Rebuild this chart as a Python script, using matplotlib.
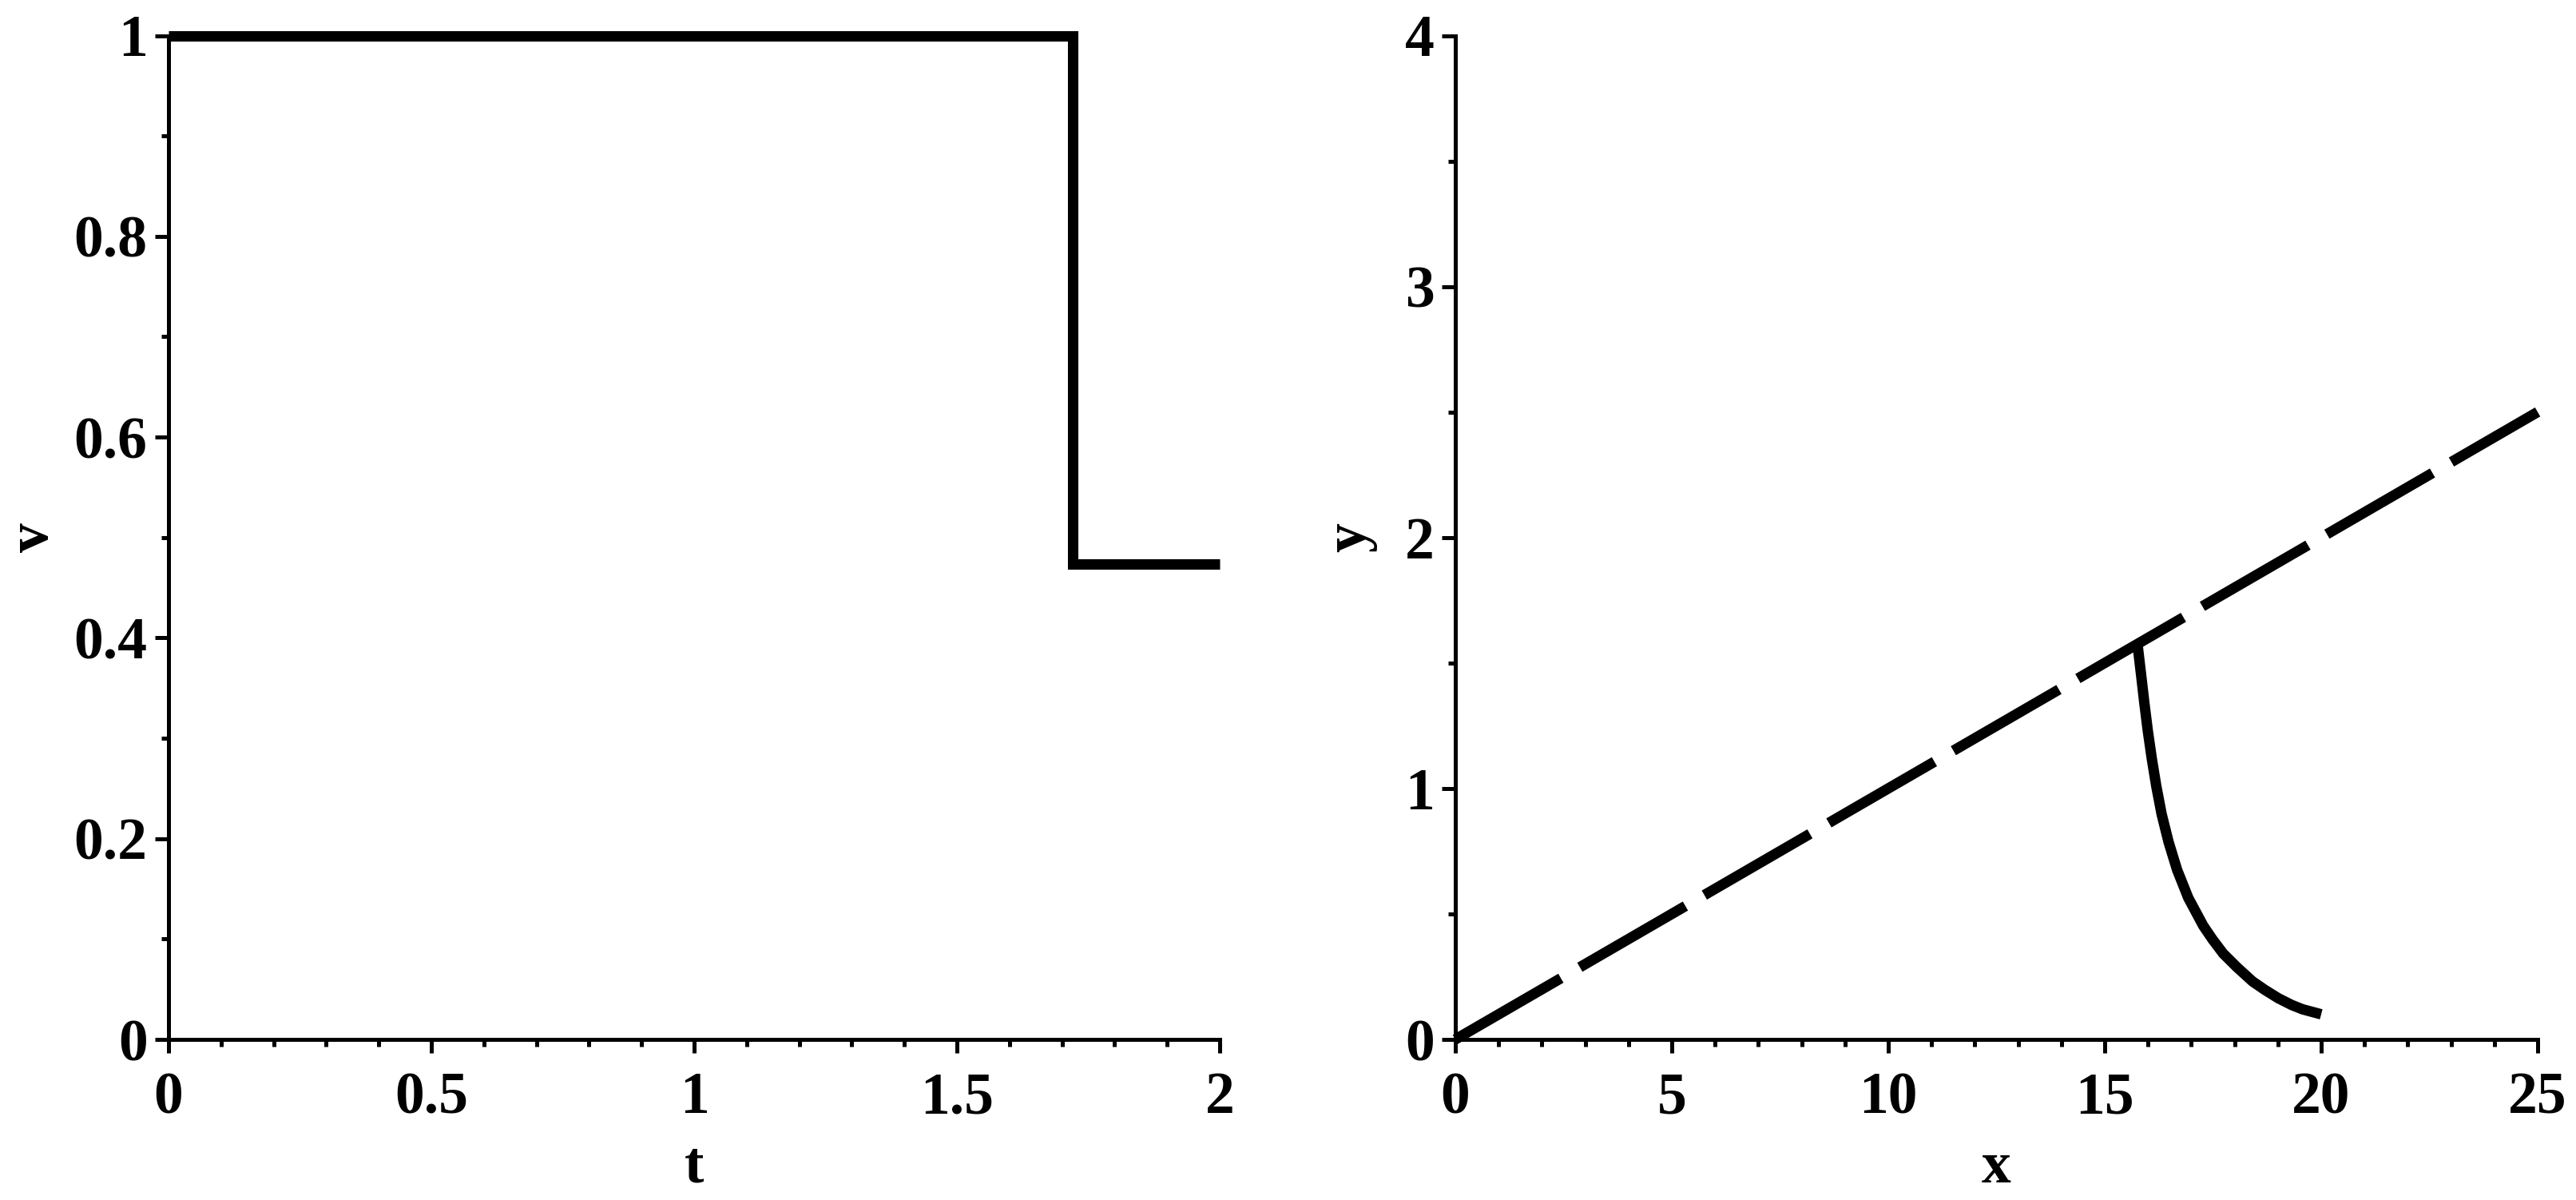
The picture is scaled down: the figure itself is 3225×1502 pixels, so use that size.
import matplotlib
matplotlib.use('Agg')
import matplotlib.pyplot as plt
from matplotlib.ticker import MultipleLocator, FixedLocator, FixedFormatter

# ---- data ----
step_t = [0.0, 1.72, 1.72, 2.0]
step_v = [1.0, 1.0, 0.4735, 0.4735]

line_x = [0.0, 25.0]
line_y = [0.0, 2.5]

curve_x = [15.76, 15.84, 15.914, 15.994, 16.086, 16.191, 16.314, 16.474, 16.671,
           16.93, 17.275, 17.492, 17.737, 18.058, 18.415, 18.693, 19.01, 19.322,
           19.57, 20.0]
curve_y = [1.57, 1.453, 1.342, 1.231, 1.12, 1.009, 0.898, 0.787, 0.676,
           0.564, 0.453, 0.398, 0.342, 0.287, 0.231, 0.198, 0.164, 0.137,
           0.12, 0.10]

left_xticks = [0, 0.5, 1, 1.5, 2]
left_xlabels = ['0', '0.5', '1', '1.5', '2']
left_yticks = [0, 0.2, 0.4, 0.6, 0.8, 1.0]
left_ylabels = ['0', '0.2', '0.4', '0.6', '0.8', '1']
right_xticks = [0, 5, 10, 15, 20, 25]
right_xlabels = ['0', '5', '10', '15', '20', '25']
right_yticks = [0, 1, 2, 3, 4]
right_ylabels = ['0', '1', '2', '3', '4']

# ---- style ----
FONT = dict(family='Liberation Serif', weight='bold', size=53)
plt.rcParams['font.family'] = 'Liberation Serif'
plt.rcParams['font.weight'] = 'bold'

DPI = 100
fig = plt.figure(figsize=(32.25, 15.02), dpi=DPI)

W, H = 3225.0, 1502.0
y_bot_px, y_top_px = 1301.0, 44.5
axL = fig.add_axes([211 / W, 1 - y_bot_px / H, (1527 - 211) / W, (y_bot_px - y_top_px) / H])
axR = fig.add_axes([1822 / W, 1 - y_bot_px / H, (3177 - 1822) / W, (y_bot_px - y_top_px) / H])

LW = 9.4  # data line width, pt


def style(ax, xt, xl, yt, yl, xminor, yminor):
    for s in ('top', 'right'):
        ax.spines[s].set_visible(False)
    for s in ('left', 'bottom'):
        ax.spines[s].set_linewidth(3.6)
        ax.spines[s].set_color('black')
    ax.xaxis.set_major_locator(FixedLocator(xt))
    ax.xaxis.set_major_formatter(FixedFormatter(xl))
    ax.yaxis.set_major_locator(FixedLocator(yt))
    ax.yaxis.set_major_formatter(FixedFormatter(yl))
    ax.xaxis.set_minor_locator(MultipleLocator(xminor))
    ax.yaxis.set_minor_locator(MultipleLocator(yminor))
    ax.tick_params(which='major', direction='out', length=12, width=3.6, color='black')
    ax.tick_params(which='minor', direction='out', length=6.3, width=3.6, color='black')
    ax.tick_params(axis='x', which='major', pad=17)
    ax.tick_params(axis='y', which='major', pad=7)
    for lab in ax.get_xticklabels() + ax.get_yticklabels():
        lab.set_fontproperties(matplotlib.font_manager.FontProperties(**FONT))


# Left panel
axL.plot(step_t, step_v, color='black', lw=LW, clip_on=False,
         solid_joinstyle='miter', solid_capstyle='butt')
axL.set_xlim(0, 2)
axL.set_ylim(0, 1)
style(axL, left_xticks, left_xlabels, left_yticks, left_ylabels, 0.1, 0.1)
axL.set_xlabel('t', fontdict=FONT)
axL.set_ylabel('v', fontdict=FONT)
axL.xaxis.set_label_coords(0.5, -0.101)
axL.yaxis.set_label_coords(-0.1026, 0.5)

# Right panel
axR.plot(line_x, line_y, color='black', lw=LW, clip_on=False,
         linestyle=(0, (11.7, 2.1)), dash_capstyle='butt')
axR.plot(curve_x, curve_y, color='black', lw=LW, clip_on=False,
         solid_joinstyle='round', solid_capstyle='butt')
axR.set_xlim(0, 25)
axR.set_ylim(0, 4)
style(axR, right_xticks, right_xlabels, right_yticks, right_ylabels, 1, 0.5)
axR.set_xlabel('x', fontdict=FONT)
axR.set_ylabel('y', fontdict=FONT)
axR.xaxis.set_label_coords(0.5, -0.101)
axR.yaxis.set_label_coords(-0.072, 0.5)

fig.savefig('out.png', dpi=DPI, facecolor='white')
